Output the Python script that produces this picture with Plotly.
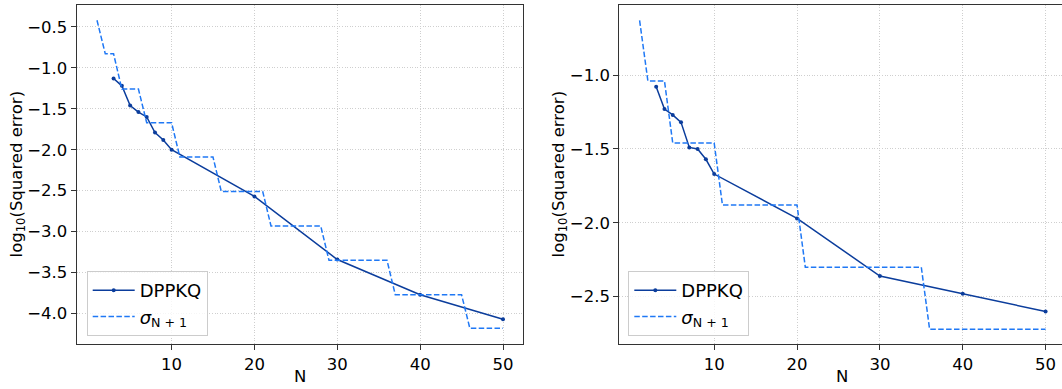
import plotly.graph_objects as go

# ---------------- data ----------------
N_sigma = list(range(1, 51))

sigma_left = [-0.42,
              -0.83, -0.83,
              -1.26, -1.26, -1.26,
              -1.67, -1.67, -1.67, -1.67,
              -2.09, -2.09, -2.09, -2.09, -2.09,
              -2.51, -2.51, -2.51, -2.51, -2.51, -2.51,
              -2.93, -2.93, -2.93, -2.93, -2.93, -2.93, -2.93,
              -3.35, -3.35, -3.35, -3.35, -3.35, -3.35, -3.35, -3.35,
              -3.77, -3.77, -3.77, -3.77, -3.77, -3.77, -3.77, -3.77, -3.77,
              -4.18, -4.18, -4.18, -4.18, -4.18]

sigma_right = [-0.63,
               -1.04, -1.04, -1.04,
               -1.46, -1.46, -1.46, -1.46, -1.46, -1.46,
               -1.88, -1.88, -1.88, -1.88, -1.88, -1.88, -1.88, -1.88, -1.88, -1.88,
               -2.30, -2.30, -2.30, -2.30, -2.30, -2.30, -2.30, -2.30, -2.30, -2.30,
               -2.30, -2.30, -2.30, -2.30, -2.30,
               -2.72, -2.72, -2.72, -2.72, -2.72, -2.72, -2.72, -2.72, -2.72, -2.72,
               -2.72, -2.72, -2.72, -2.72, -2.72]

N_dpp = [3, 4, 5, 6, 7, 8, 9, 10, 20, 30, 40, 50]
dpp_left = [-1.13, -1.22, -1.46, -1.54, -1.60, -1.79, -1.88, -2.00, -2.57, -3.34, -3.77, -4.07]
dpp_right = [-1.08, -1.23, -1.27, -1.32, -1.49, -1.50, -1.57, -1.67, -1.97, -2.36, -2.48, -2.60]

x_ticks = [10, 20, 30, 40, 50]
y_ticks_left = [-0.5, -1.0, -1.5, -2.0, -2.5, -3.0, -3.5, -4.0]
y_ticks_right = [-1.0, -1.5, -2.0, -2.5]

# ---------------- style ----------------
W, H = 1062, 389
FONT = "DejaVu Sans"
C_DPP = "#0b3d9c"
C_SIG = "#1f78f5"
GRID = "#cfcfcf"
FRAME = "#333333"


def px_x(p):
    return p / W


def px_y(p):
    return (H - p) / H


def minus(v):
    return f"{v:.1f}".replace("-", "\u2212")


fig = go.Figure()

for (dpp, sig, xa, ya, leg) in [
    (dpp_left, sigma_left, "x", "y", "legend"),
    (dpp_right, sigma_right, "x2", "y2", "legend2"),
]:
    fig.add_trace(go.Scatter(
        x=N_dpp, y=dpp, mode="lines+markers", name="DPPKQ",
        line=dict(color=C_DPP, width=1.5),
        marker=dict(color=C_DPP, size=4),
        xaxis=xa, yaxis=ya, legend=leg))
    fig.add_trace(go.Scatter(
        x=N_sigma, y=sig, mode="lines",
        name="<i>σ</i><sub>N + 1</sub>",
        line=dict(color=C_SIG, width=1.5, dash="5.5px,2.4px"),
        xaxis=xa, yaxis=ya, legend=leg))

tickfont = dict(family=FONT, size=16.5, color="black")


def xaxis_style():
    return dict(
        tickvals=x_ticks, ticktext=[str(t) for t in x_ticks],
        ticks="outside", ticklen=5, tickwidth=1, tickcolor=FRAME,
        showline=True, linecolor=FRAME, linewidth=1.1, mirror=True,
        showgrid=True, gridcolor=GRID, griddash="1px,1.6px", gridwidth=1,
        zeroline=False, tickfont=tickfont, automargin=False,
    )


def yaxis_style(vals, mirror):
    return dict(
        tickvals=vals, ticktext=[minus(v) for v in vals],
        ticks="outside", ticklen=5, tickwidth=1, tickcolor=FRAME,
        showline=True, linecolor=FRAME, linewidth=1.1, mirror=mirror,
        showgrid=True, gridcolor=GRID, griddash="1px,1.6px", gridwidth=1,
        zeroline=False, tickfont=tickfont, automargin=False,
    )


y_bot = px_y(344)
y_top = px_y(4.7)

legend_style = dict(
    bgcolor="rgba(255,255,255,0.8)", bordercolor="#cccccc", borderwidth=1,
    font=dict(family=FONT, size=18, color="black"),
    xanchor="left", yanchor="bottom", tracegroupgap=0, itemwidth=42,
)

fig.update_layout(
    width=W, height=H,
    margin=dict(l=0, r=0, t=0, b=0, autoexpand=False),
    paper_bgcolor="white", plot_bgcolor="white",
    font=dict(family=FONT, size=16.5, color="black"),
    showlegend=True,
    xaxis=dict(domain=[px_x(76.7), px_x(523.3)], range=[-1.45, 52.45],
               anchor="y", **xaxis_style()),
    yaxis=dict(domain=[y_bot, y_top], range=[-4.371, -0.230], anchor="x",
               **yaxis_style(y_ticks_left, True)),
    xaxis2=dict(domain=[px_x(619.3), 1.0], range=[-1.45, 51.98],
                anchor="y2", **xaxis_style()),
    yaxis2=dict(domain=[y_bot, y_top], range=[-2.82, -0.524], anchor="x2",
                **yaxis_style(y_ticks_right, False)),
    legend=dict(x=px_x(86.7), y=px_y(336), **legend_style),
    legend2=dict(x=px_x(628.3), y=px_y(336), **legend_style),
    annotations=[
        dict(text="log<sub>10</sub>(Squared error)", x=px_x(17), y=px_y(174.4),
             xref="paper", yref="paper", textangle=-90, showarrow=False,
             xanchor="center", yanchor="middle",
             font=dict(family=FONT, size=16.5, color="black")),
        dict(text="log<sub>10</sub>(Squared error)", x=px_x(559), y=px_y(174.4),
             xref="paper", yref="paper", textangle=-90, showarrow=False,
             xanchor="center", yanchor="middle",
             font=dict(family=FONT, size=16.5, color="black")),
        dict(text="N", x=px_x(300), y=px_y(376), xref="paper", yref="paper",
             showarrow=False, xanchor="center", yanchor="middle",
             font=dict(family=FONT, size=16.5, color="black")),
        dict(text="N", x=px_x(842), y=px_y(376), xref="paper", yref="paper",
             showarrow=False, xanchor="center", yanchor="middle",
             font=dict(family=FONT, size=16.5, color="black")),
    ],
)

fig.write_html(
    "out.html",
    config={"displayModeBar": False},
    post_script="document.body.style.margin='0';document.body.style.overflow='hidden';",
)
